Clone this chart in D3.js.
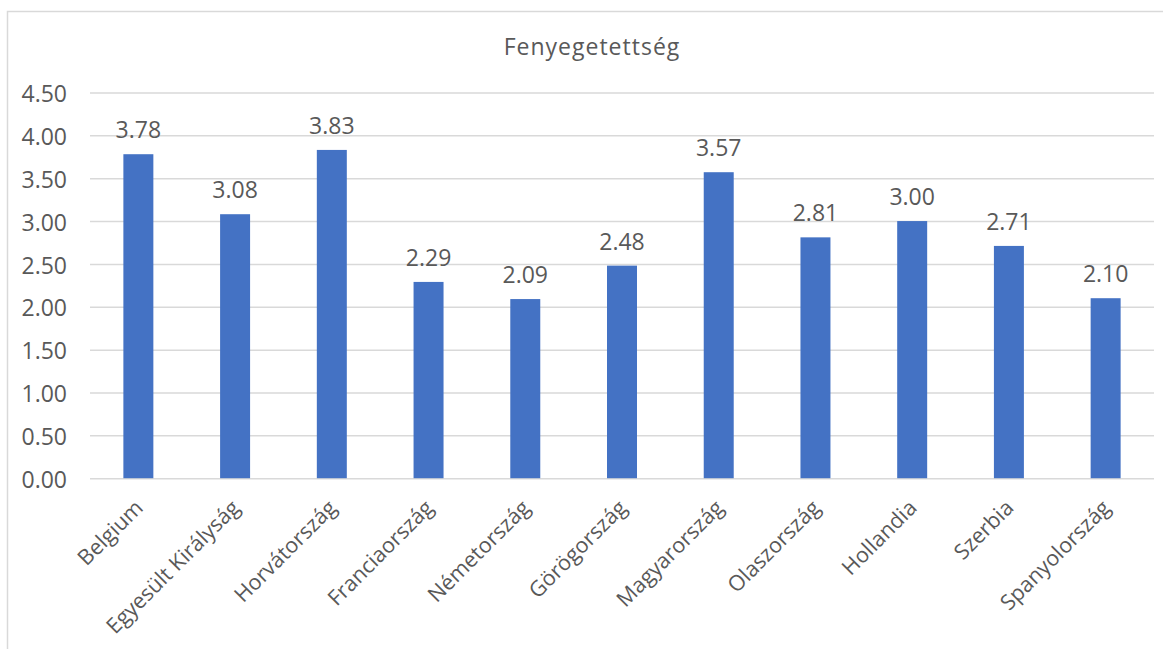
<!DOCTYPE html>
<meta charset="utf-8">
<style>
    body {
        margin: 0;
        background-color: #fff;
    }

    svg {
        font-family: "Open Sans", sans-serif;
    }

    text {
        fill: #595959;
    }

    .grid line {
        stroke: #d9d9d9;
        stroke-width: 1.5;
    }

    .grid .domain {
        display: none;
    }
</style>

<body>
    <script src="https://cdn.jsdelivr.net/npm/d3@7"></script>
    <script>
        var title = "Fenyegetettség";
        var countries = ["Belgium", "Egyesült Királyság", "Horvátország", "Franciaország", "Németország",
            "Görögország", "Magyarország", "Olaszország", "Hollandia", "Szerbia", "Spanyolország"];
        var values = [3.78, 3.08, 3.83, 2.29, 2.09, 2.48, 3.57, 2.81, 3.00, 2.71, 2.10];
        var yTicks = [0, 0.5, 1, 1.5, 2, 2.5, 3, 3.5, 4, 4.5];

        var width = 1163,
            height = 649;

        var margin = {
            top: 92.5,
            right: 9,
            bottom: 171,
            left: 90
        };

        var svg = d3.select("body").append("svg")
            .attr("width", width)
            .attr("height", height);

        // chart frame
        svg.append("rect")
            .attr("x", 7.5)
            .attr("y", 11.5)
            .attr("width", 1200)
            .attr("height", 700)
            .attr("fill", "none")
            .attr("stroke", "#d9d9d9")
            .attr("stroke-width", 1.5);

        var x = d3.scaleBand()
            .domain(countries)
            .range([margin.left, width - margin.right])
            .paddingInner(0.69)
            .paddingOuter(0.345);

        var y = d3.scaleLinear()
            .domain([0, 4.5])
            .range([height - margin.bottom + 0.2, margin.top]);

        // gridlines
        svg.append("g")
            .attr("class", "grid")
            .attr("transform", "translate(" + margin.left + ",0)")
            .call(d3.axisLeft(y)
                .tickValues(yTicks)
                .tickSize(-(width - margin.left - margin.right))
                .tickFormat(""));

        // y labels
        svg.append("g")
            .selectAll("text")
            .data(yTicks)
            .enter().append("text")
            .attr("x", 67)
            .attr("y", function(d) { return y(d); })
            .attr("dy", "0.42em")
            .attr("text-anchor", "end")
            .style("font-size", "23px")
            .text(function(d) { return d3.format(".2f")(d); });

        svg.selectAll(".bar")
            .data(values)
            .enter().append("rect")
            .attr("class", "bar")
            .attr("x", function(d, i) { return x(countries[i]); })
            .attr("y", function(d) { return y(d); })
            .attr("width", x.bandwidth())
            .attr("height", function(d) { return y(0) - y(d); })
            .attr("fill", "#4472c4");

        // data labels
        svg.selectAll(".val")
            .data(values)
            .enter().append("text")
            .attr("class", "val")
            .attr("x", function(d, i) { return x(countries[i]) + x.bandwidth() / 2; })
            .attr("y", function(d) { return y(d) - 16; })
            .attr("text-anchor", "middle")
            .style("font-size", "23px")
            .text(function(d) { return d3.format(".2f")(d); });

        // category labels, rotated
        svg.selectAll(".cat")
            .data(countries)
            .enter().append("text")
            .attr("class", "cat")
            .attr("text-anchor", "end")
            .style("font-size", "21.5px")
            .attr("transform", function(d) {
                var cx = x(d) + x.bandwidth() / 2 - 5;
                return "translate(" + cx + "," + (y(0) + 20) + ") rotate(-45)";
            })
            .attr("dy", "0.72em")
            .text(function(d) { return d; });

        svg.append("text")
            .attr("x", 592)
            .attr("y", 55)
            .attr("text-anchor", "middle")
            .style("font-size", "23px")
            .style("letter-spacing", "1px")
            .text(title);
    </script>
</body>

</html>
